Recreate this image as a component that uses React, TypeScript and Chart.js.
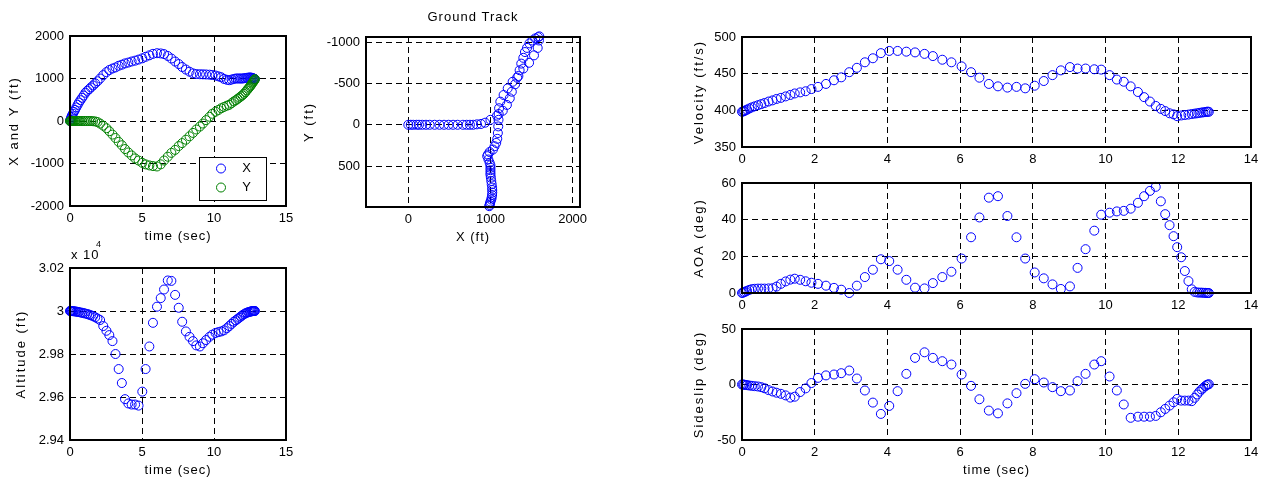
import React, { useEffect, useRef } from 'react';
import { Chart, registerables } from 'chart.js';

Chart.register(...registerables);

// ---------------- data ----------------
const timeSec = [
  0, 0.03, 0.06, 0.1, 0.14, 0.2, 0.27, 0.35, 0.44, 0.53,
  0.62, 0.73, 0.84, 0.95, 1.07, 1.2, 1.33, 1.45, 1.6, 1.75,
  1.91, 2.09, 2.31, 2.53, 2.73, 2.95, 3.16, 3.38, 3.6, 3.82,
  4.05, 4.28, 4.52, 4.76, 5.02, 5.25, 5.51, 5.76, 6.04, 6.3,
  6.53, 6.79, 7.04, 7.3, 7.55, 7.79, 8.05, 8.3, 8.54, 8.77,
  9.02, 9.23, 9.45, 9.69, 9.88, 10.11, 10.31, 10.5, 10.69, 10.89,
  11.06, 11.22, 11.38, 11.52, 11.64, 11.76, 11.87, 11.97, 12.08, 12.18,
  12.28, 12.37, 12.45, 12.52, 12.58, 12.64, 12.69, 12.74, 12.78, 12.81,
  12.84,
];

const posXft = [
  0, 30, 60, 100, 130, 170, 215, 260, 320, 380,
  435, 490, 545, 600, 665, 710, 750, 790, 835, 885,
  935, 1000, 1080, 1150, 1200, 1235, 1260, 1300, 1325, 1355,
  1375, 1400, 1420, 1445, 1475, 1510, 1545, 1580, 1595, 1590,
  1575, 1530, 1470, 1400, 1340, 1270, 1210, 1160, 1120, 1105,
  1100, 1098, 1095, 1090, 1083, 1070, 1050, 1030, 990, 970,
  960, 975, 990, 1000, 1000, 1000, 1000, 1000, 1005, 1010,
  1015, 1020, 1022, 1022, 1020, 1015, 1010, 1000, 995, 990,
  985,
];

const posYft = [
  0, 0, 0, 0, 0, 0, 0, 0, 0, 0,
  0, 0, 0, 0, 0, 0, 0, 0, -5, -10,
  -25, -60, -110, -170, -240, -320, -400, -490, -570, -660,
  -740, -810, -880, -930, -985, -1020, -1045, -1060, -1070, -1020,
  -930, -840, -750, -680, -590, -520, -440, -360, -280, -200,
  -130, -60, 20, 100, 170, 220, 260, 300, 330, 360,
  380, 420, 460, 490, 520, 550, 580, 605, 640, 680,
  720, 760, 790, 820, 850, 880, 905, 930, 950, 970,
  985,
];

const altitudeFt = [
  30000, 30000, 30000, 30000, 30000, 29999, 29999, 29998, 29997, 29996,
  29995, 29993, 29992, 29990, 29988, 29986, 29983, 29980, 29976, 29971,
  29965, 29958, 29930, 29908, 29888, 29860, 29800, 29730, 29665, 29590,
  29570, 29565, 29565, 29560, 29625, 29730, 29835, 29945, 30020, 30060,
  30100, 30142, 30140, 30075, 30015, 29950, 29905, 29880, 29860, 29840,
  29835, 29850, 29865, 29880, 29890, 29898, 29902, 29905, 29910, 29920,
  29930, 29940, 29950, 29957, 29963, 29969, 29975, 29980, 29985, 29989,
  29992, 29994, 29996, 29997, 29998, 29999, 30000, 30000, 30000, 30000,
  30000,
];

const velocityFtS = [
  398, 398.5, 399, 400, 401, 402.5, 404, 405.5, 407, 408.5,
  410, 412, 413.6, 415.5, 417, 419, 421, 423, 424.5, 426,
  429, 432, 436, 441, 445, 452, 458, 465.5, 471, 478,
  481, 481, 480, 479, 477, 474, 469, 465.5, 460, 452,
  444.5, 436, 432.7, 431, 432, 430, 433.6, 440, 448, 454.5,
  459, 457, 457, 456, 455.5, 448, 442, 439, 432.7, 425,
  418, 412, 406, 402, 399, 396, 394.5, 392, 393, 393.6,
  394.2, 395, 395.5, 396, 396.5, 397, 397.3, 397.6, 398, 398.2,
  398,
];

const aoaDeg = [
  0, 0.2, 0.5, 0.8, 1.2, 1.7, 2.1, 2.3, 2.4, 2.4,
  2.4, 2.5, 2.6, 3.5, 5, 6.3, 7.3, 7.8, 7.2, 6.4,
  5.6, 5, 4, 2.8, 1.8, 0, 4, 8.7, 12.7, 18.4,
  17.4, 12.7, 7.2, 2.9, 2.5, 5.4, 8.7, 11.6, 18.8, 30.4,
  41.2, 52, 52.8, 42, 30.4, 18.8, 11.2, 8, 4.7, 2.2,
  3.6, 13.7, 23.9, 34, 42.7, 43.8, 44.5, 44.8, 46, 49.2,
  52.8, 55.7, 57.9, 50, 43, 37, 31, 25, 19.5, 12,
  6.5, 2, 0.6, 0.3, 0.2, 0.2, 0.1, 0.1, 0, 0,
  0,
];

const sideslipDeg = [
  0, 0, -0.2, -0.4, -0.6, -0.9, -1.2, -1.5, -1.8, -2.4,
  -3.4, -5, -6.3, -7.4, -8.4, -9.8, -11.8, -11, -6.8, -3.5,
  1.3, 6, 8.2, 9, 10.2, 12.6, 5.4, -5.4, -16.3, -26.5,
  -19.3, -6, 9.6, 24, 29, 24, 21, 18, 9, -1.2,
  -13.3, -23.5, -26, -17, -7.8, 0.6, 4.8, 1.8, -2.4, -6,
  -5.4, 3, 9.6, 18, 21, 7.2, -5.4, -18, -30, -29,
  -29, -29, -28.3, -25, -22, -19, -16, -13, -14.5, -14.5,
  -14.5, -15, -12, -9, -6.5, -4.5, -3, -1.5, -0.5, 0,
  0.2,
];

const timeTicks15 = [0, 5, 10, 15];
const timeTicks14 = [0, 2, 4, 6, 8, 10, 12, 14];
const xyTicks = [-2000, -1000, 0, 1000, 2000];
const trackXTicks = [0, 1000, 2000];
const trackYTicks = [-1000, -500, 0, 500];
const altitudeTicks = [29400, 29600, 29800, 30000, 30200];
const velocityTicks = [350, 400, 450, 500];
const aoaTicks = [0, 20, 40, 60];
const sideslipTicks = [-50, 0, 50];

// ---------------- style ----------------
const FONT = '"Liberation Sans", Arial, Helvetica, sans-serif';
const BLUE = '#0000ff';
const GREEN = '#008000';
const PAD_L = 75;
const PAD_T = 30;
const PAD_R = 28;
const PAD_B = 48;

type DS = { label: string; xs: number[]; ys: number[]; color: string; order: number };
type PanelSpec = {
  key: string;
  rect: [number, number, number, number];
  xMin: number; xMax: number; xTicks: number[];
  yMin: number; yMax: number; yTicks: number[]; yReverse?: boolean;
  yFmt?: (v: number) => string;
  datasets: DS[];
  title?: string; xLabel?: string; yLabel: string; yLabelOff: number;
  legend?: boolean; exponent?: boolean;
};

const panels: PanelSpec[] = [
  {
    key: 'xy', rect: [70, 36, 286, 206],
    xMin: 0, xMax: 15, xTicks: timeTicks15,
    yMin: -2000, yMax: 2000, yTicks: xyTicks,
    datasets: [
      { label: 'X', xs: timeSec, ys: posXft, color: BLUE, order: 1 },
      { label: 'Y', xs: timeSec, ys: posYft, color: GREEN, order: 0 },
    ],
    xLabel: 'time (sec)', yLabel: 'X and Y (ft)', yLabelOff: 56, legend: true,
  },
  {
    key: 'track', rect: [366, 37, 580, 207],
    xMin: -515, xMax: 2090, xTicks: trackXTicks,
    yMin: -1062, yMax: 995, yTicks: trackYTicks, yReverse: true,
    datasets: [{ label: 'track', xs: posXft, ys: posYft, color: BLUE, order: 0 }],
    title: 'Ground Track', xLabel: 'X (ft)', yLabel: 'Y (ft)', yLabelOff: 57,
  },
  {
    key: 'alt', rect: [70, 268, 286, 440],
    xMin: 0, xMax: 15, xTicks: timeTicks15,
    yMin: 29400, yMax: 30200, yTicks: altitudeTicks,
    yFmt: (v) => String(+(v / 10000).toFixed(2)),
    datasets: [{ label: 'alt', xs: timeSec, ys: altitudeFt, color: BLUE, order: 0 }],
    xLabel: 'time (sec)', yLabel: 'Altitude (ft)', yLabelOff: 49, exponent: true,
  },
  {
    key: 'vel', rect: [742, 37, 1251, 147],
    xMin: 0, xMax: 14, xTicks: timeTicks14,
    yMin: 350, yMax: 500, yTicks: velocityTicks,
    datasets: [{ label: 'vel', xs: timeSec, ys: velocityFtS, color: BLUE, order: 0 }],
    yLabel: 'Velocity (ft/s)', yLabelOff: 43,
  },
  {
    key: 'aoa', rect: [742, 183, 1251, 293],
    xMin: 0, xMax: 14, xTicks: timeTicks14,
    yMin: 0, yMax: 60, yTicks: aoaTicks,
    datasets: [{ label: 'aoa', xs: timeSec, ys: aoaDeg, color: BLUE, order: 0 }],
    yLabel: 'AOA (deg)', yLabelOff: 43,
  },
  {
    key: 'beta', rect: [742, 329, 1251, 440],
    xMin: 0, xMax: 14, xTicks: timeTicks14,
    yMin: -50, yMax: 50, yTicks: sideslipTicks,
    datasets: [{ label: 'beta', xs: timeSec, ys: sideslipDeg, color: BLUE, order: 0 }],
    xLabel: 'time (sec)', yLabel: 'Sideslip (deg)', yLabelOff: 43,
  },
];

function makePlugin(spec: PanelSpec) {
  return {
    id: 'matlab_' + spec.key,
    afterDraw(chart: any) {
      const ctx = chart.ctx as CanvasRenderingContext2D;
      const ca = chart.chartArea;
      ctx.save();
      ctx.setLineDash([]);
      ctx.strokeStyle = '#000';
      ctx.lineWidth = 2;
      ctx.strokeRect(ca.left, ca.top, ca.right - ca.left, ca.bottom - ca.top);

      ctx.fillStyle = '#000';
      ctx.font = `13px ${FONT}`;
      ctx.textAlign = 'center';
      ctx.textBaseline = 'middle';
      (ctx as any).letterSpacing = '1px';
      const cx = (ca.left + ca.right) / 2;
      const cy = (ca.top + ca.bottom) / 2;
      if (spec.title) ctx.fillText(spec.title, cx, ca.top - 20);
      if (spec.xLabel) ctx.fillText(spec.xLabel, cx, ca.bottom + 30);

      ctx.save();
      (ctx as any).letterSpacing = '2px';
      ctx.translate(ca.left - spec.yLabelOff, cy);
      ctx.rotate(-Math.PI / 2);
      ctx.fillText(spec.yLabel, 0, 0);
      ctx.restore();

      if (spec.exponent) {
        ctx.textAlign = 'left';
        (ctx as any).letterSpacing = '1px';
        ctx.fillText('x 10', ca.left + 1, ca.top - 13);
        ctx.font = `9px ${FONT}`;
        ctx.fillText('4', ca.left + 26, ca.top - 23);
      }

      if (spec.legend) {
        const bx = ca.left + 129;
        const by = ca.top + 121;
        ctx.fillStyle = '#fff';
        ctx.fillRect(bx, by, 67, 43);
        ctx.strokeStyle = '#000';
        ctx.lineWidth = 1;
        ctx.strokeRect(bx + 0.5, by + 0.5, 67, 43);
        spec.datasets.forEach((d, i) => {
          const yy = by + 11.5 + i * 19;
          ctx.beginPath();
          ctx.arc(bx + 22, yy, 4.5, 0, Math.PI * 2);
          ctx.strokeStyle = d.color;
          ctx.stroke();
          ctx.fillStyle = '#000';
          ctx.font = `13px ${FONT}`;
          ctx.textAlign = 'center';
          ctx.fillText(d.label, bx + 48, yy);
        });
      }
      ctx.restore();
    },
  };
}

function Panel({ spec }: { spec: PanelSpec }) {
  const ref = useRef<HTMLCanvasElement | null>(null);
  const [L, T, R, B] = spec.rect;
  const width = R - L + PAD_L + PAD_R;
  const height = B - T + PAD_T + PAD_B;

  useEffect(() => {
    if (!ref.current) return;
    const gridColor = (min: number, max: number) => (c: any) =>
      c.tick && (c.tick.value === min || c.tick.value === max) ? 'rgba(0,0,0,0)' : '#000';
    const chart = new Chart(ref.current, {
      type: 'scatter',
      data: {
        datasets: spec.datasets.map((d) => ({
          label: d.label,
          data: d.xs.map((x, i) => ({ x, y: d.ys[i] })),
          showLine: false,
          pointStyle: 'circle',
          pointRadius: 4.5,
          pointHoverRadius: 4.5,
          pointBorderWidth: 1,
          pointBackgroundColor: 'rgba(0,0,0,0)',
          pointBorderColor: d.color,
          borderColor: d.color,
          backgroundColor: 'rgba(0,0,0,0)',
          clip: false,
          order: d.order,
        })),
      },
      options: {
        responsive: false,
        animation: false,
        devicePixelRatio: 1,
        events: [],
        layout: { padding: { left: 0, top: PAD_T, right: PAD_R, bottom: 0 } },
        plugins: { legend: { display: false }, tooltip: { enabled: false } },
        scales: {
          x: {
            type: 'linear',
            min: spec.xMin,
            max: spec.xMax,
            afterBuildTicks: (s: any) => { s.ticks = spec.xTicks.map((v) => ({ value: v })); },
            afterFit: (s: any) => { s.height = PAD_B; },
            grid: { color: gridColor(spec.xMin, spec.xMax), lineWidth: 1, drawTicks: false },
            border: { display: false, dash: [6, 4] },
            ticks: {
              padding: 5, color: '#000', autoSkip: false, maxRotation: 0,
              font: { family: FONT, size: 13 },
              callback: (v: any) => String(v),
            },
          },
          y: {
            type: 'linear',
            min: spec.yMin,
            max: spec.yMax,
            reverse: !!spec.yReverse,
            afterBuildTicks: (s: any) => { s.ticks = spec.yTicks.map((v) => ({ value: v })); },
            afterFit: (s: any) => { s.width = PAD_L; },
            grid: { color: gridColor(spec.yMin, spec.yMax), lineWidth: 1, drawTicks: false },
            border: { display: false, dash: [6, 4] },
            ticks: {
              padding: 6, color: '#000', autoSkip: false,
              font: { family: FONT, size: 13 },
              callback: (v: any) => (spec.yFmt ? spec.yFmt(Number(v)) : String(v)),
            },
          },
        },
      } as any,
      plugins: [makePlugin(spec)],
    });
    return () => chart.destroy();
  }, []);

  return (
    <canvas
      ref={ref}
      width={width}
      height={height}
      style={{ position: 'absolute', left: L - PAD_L, top: T - PAD_T, width, height }}
    />
  );
}

export default function App() {
  return (
    <div style={{ position: 'absolute', left: 0, top: 0, width: 1270, height: 483, background: '#fff', overflow: 'hidden' }}>
      {panels.map((p) => (
        <Panel key={p.key} spec={p} />
      ))}
    </div>
  );
}
